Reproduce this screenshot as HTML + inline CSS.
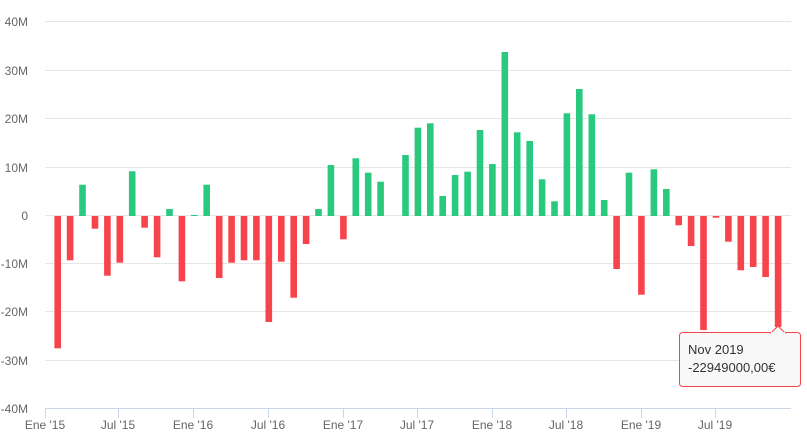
<!DOCTYPE html>
<html><head><meta charset="utf-8"><style>
html,body{margin:0;padding:0;background:#fff;}
svg{display:block;font-family:"Liberation Sans",sans-serif;}
</style></head><body>
<svg width="807" height="442" viewBox="0 0 807 442" xmlns="http://www.w3.org/2000/svg">
<g stroke="#e6e6e6" stroke-width="1">
<line x1="45" y1="21.5" x2="791" y2="21.5"/>
<line x1="45" y1="70.5" x2="791" y2="70.5"/>
<line x1="45" y1="118.5" x2="791" y2="118.5"/>
<line x1="45" y1="167.5" x2="791" y2="167.5"/>
<line x1="45" y1="215.5" x2="791" y2="215.5"/>
<line x1="45" y1="263.5" x2="791" y2="263.5"/>
<line x1="45" y1="311.5" x2="791" y2="311.5"/>
<line x1="45" y1="360.5" x2="791" y2="360.5"/>
</g>
<line x1="45" y1="408.5" x2="791" y2="408.5" stroke="#ccd6eb"/>
<g stroke="#ccd6eb">
<line x1="45.5" y1="408" x2="45.5" y2="418"/>
<line x1="118.5" y1="408" x2="118.5" y2="418"/>
<line x1="193.5" y1="408" x2="193.5" y2="418"/>
<line x1="268.5" y1="408" x2="268.5" y2="418"/>
<line x1="343.5" y1="408" x2="343.5" y2="418"/>
<line x1="417.5" y1="408" x2="417.5" y2="418"/>
<line x1="492.5" y1="408" x2="492.5" y2="418"/>
<line x1="566.5" y1="408" x2="566.5" y2="418"/>
<line x1="641.5" y1="408" x2="641.5" y2="418"/>
<line x1="715.5" y1="408" x2="715.5" y2="418"/>
</g>
<g fill="#666" font-size="12" text-anchor="end">
<text x="28" y="26">40M</text>
<text x="28" y="75">30M</text>
<text x="28" y="123">20M</text>
<text x="28" y="172">10M</text>
<text x="28" y="220">0</text>
<text x="28" y="268">-10M</text>
<text x="28" y="316">-20M</text>
<text x="28" y="365">-30M</text>
<text x="28" y="413">-40M</text>
</g>
<g fill="#666" font-size="12" text-anchor="middle">
<text x="45" y="429">Ene '15</text>
<text x="118" y="429">Jul '15</text>
<text x="193" y="429">Ene '16</text>
<text x="268" y="429">Jul '16</text>
<text x="343" y="429">Ene '17</text>
<text x="417" y="429">Jul '17</text>
<text x="492" y="429">Ene '18</text>
<text x="566" y="429">Jul '18</text>
<text x="641" y="429">Ene '19</text>
<text x="715" y="429">Jul '19</text>
</g>
<g fill="#f7434b">
<rect x="54.4" y="216" width="6.6" height="132.3"/>
<rect x="66.8" y="216" width="6.6" height="44.3"/>
<rect x="91.7" y="216" width="6.6" height="12.7"/>
<rect x="104.1" y="216" width="6.6" height="59.7"/>
<rect x="116.5" y="216" width="6.6" height="46.7"/>
<rect x="141.3" y="216" width="6.6" height="11.7"/>
<rect x="153.8" y="216" width="6.6" height="41.3"/>
<rect x="178.6" y="216" width="6.6" height="65.3"/>
<rect x="215.9" y="216" width="6.6" height="62"/>
<rect x="228.3" y="216" width="6.6" height="46.7"/>
<rect x="240.7" y="216" width="6.6" height="44.3"/>
<rect x="253.1" y="216" width="6.6" height="44.3"/>
<rect x="265.5" y="216" width="6.6" height="106"/>
<rect x="278.0" y="216" width="6.6" height="45.7"/>
<rect x="290.4" y="216" width="6.6" height="81.7"/>
<rect x="302.8" y="216" width="6.6" height="28"/>
<rect x="340.1" y="216" width="6.6" height="23.3"/>
<rect x="613.3" y="216" width="6.6" height="53"/>
<rect x="638.1" y="216" width="6.6" height="78.7"/>
<rect x="675.4" y="216" width="6.6" height="9.3"/>
<rect x="687.8" y="216" width="6.6" height="30"/>
<rect x="700.2" y="216" width="6.6" height="114"/>
<rect x="712.7" y="216" width="6.6" height="1.7"/>
<rect x="725.1" y="216" width="6.6" height="25.7"/>
<rect x="737.5" y="216" width="6.6" height="54.3"/>
<rect x="749.9" y="216" width="6.6" height="51"/>
<rect x="762.3" y="216" width="6.6" height="61"/>
<rect x="774.8" y="216" width="6.6" height="110.9"/>
</g>
<g fill="#29c97f">
<rect x="79.2" y="184.7" width="6.6" height="31.3"/>
<rect x="128.9" y="171.3" width="6.6" height="44.7"/>
<rect x="166.2" y="209" width="6.6" height="7"/>
<rect x="191.0" y="215" width="6.6" height="1"/>
<rect x="203.4" y="184.7" width="6.6" height="31.3"/>
<rect x="315.2" y="209" width="6.6" height="7"/>
<rect x="327.6" y="165" width="6.6" height="51"/>
<rect x="352.5" y="158.3" width="6.6" height="57.7"/>
<rect x="364.9" y="172.7" width="6.6" height="43.3"/>
<rect x="377.3" y="181.7" width="6.6" height="34.3"/>
<rect x="402.2" y="155" width="6.6" height="61"/>
<rect x="414.6" y="127.7" width="6.6" height="88.3"/>
<rect x="427.0" y="123.3" width="6.6" height="92.7"/>
<rect x="439.4" y="196" width="6.6" height="20"/>
<rect x="451.8" y="175" width="6.6" height="41"/>
<rect x="464.3" y="171.7" width="6.6" height="44.3"/>
<rect x="476.7" y="130" width="6.6" height="86"/>
<rect x="489.1" y="164" width="6.6" height="52"/>
<rect x="501.5" y="52" width="6.6" height="164"/>
<rect x="513.9" y="132.3" width="6.6" height="83.7"/>
<rect x="526.4" y="141" width="6.6" height="75"/>
<rect x="538.8" y="179.3" width="6.6" height="36.7"/>
<rect x="551.2" y="201.3" width="6.6" height="14.7"/>
<rect x="563.6" y="113.3" width="6.6" height="102.7"/>
<rect x="576.0" y="89" width="6.6" height="127"/>
<rect x="588.5" y="114.3" width="6.6" height="101.7"/>
<rect x="600.9" y="200" width="6.6" height="16"/>
<rect x="625.7" y="172.7" width="6.6" height="43.3"/>
<rect x="650.6" y="169.3" width="6.6" height="46.7"/>
<rect x="663.0" y="189" width="6.6" height="27"/>
</g>
<g>
<rect x="679.5" y="332.5" width="121" height="54" rx="3" fill="#f8f8f8" stroke="#f7434b"/>
<path d="M771 333 L778 326 L785 333 Z" fill="#f8f8f8" stroke="#f7434b"/>
<rect x="771" y="332" width="14" height="2" fill="#f8f8f8"/>
<text x="688" y="354" font-size="13" fill="#333">Nov 2019</text>
<text x="688" y="372" font-size="13" fill="#333">-22949000,00€</text>
</g>
</svg>
</body></html>
